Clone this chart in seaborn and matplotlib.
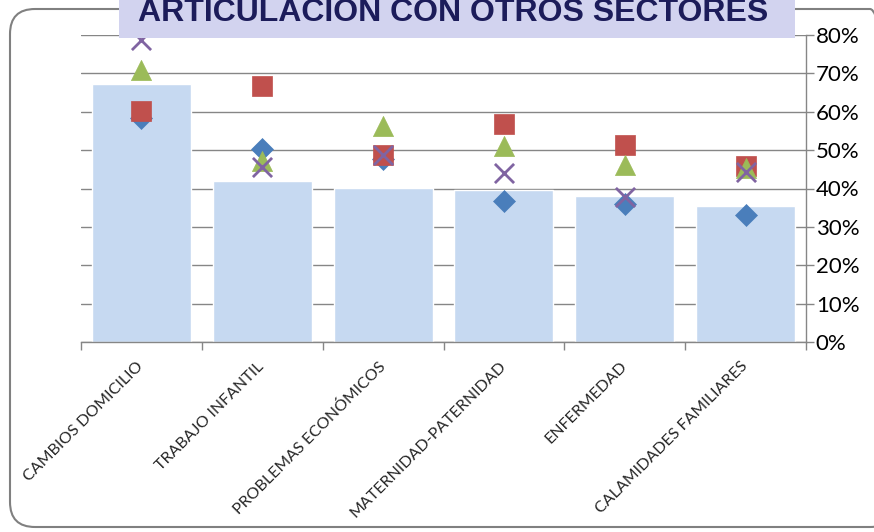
import numpy as np
import pandas as pd
import matplotlib
matplotlib.use("Agg")
import matplotlib.pyplot as plt
import seaborn as sns
from matplotlib.patches import FancyBboxPatch, Rectangle

# data
categories = ["CAMBIOS DOMICILIO", "TRABAJO INFANTIL", "PROBLEMAS ECONÓMICOS",
              "MATERNIDAD-PATERNIDAD", "ENFERMEDAD", "CALAMIDADES FAMILIARES"]
bar_values = [0.672, 0.419, 0.401, 0.396, 0.380, 0.354]
diamond_values = [0.585, 0.503, 0.477, 0.367, 0.359, 0.331]
square_values = [0.602, 0.667, 0.487, 0.568, 0.513, 0.458]
triangle_values = [0.708, 0.471, 0.563, 0.510, 0.461, 0.453]
cross_values = [0.786, 0.456, 0.487, 0.440, 0.378, 0.443]
y_ticks = [0.0, 0.1, 0.2, 0.3, 0.4, 0.5, 0.6, 0.7, 0.8]
title = "ARTICULACIÓN CON OTROS SECTORES"

sns.set_style("white")
plt.rcParams["font.family"] = ["Lato", "DejaVu Sans"]

fig = plt.figure(figsize=(8.74, 5.32), dpi=100)
ax = fig.add_axes([81 / 874, 1 - 342 / 532, (806 - 81) / 874, (342 - 35) / 532])

grid_color = "#868686"
ax.set_axisbelow(True)
for t in y_ticks:
    ax.axhline(t, color=grid_color, lw=1, zorder=0)

sns.barplot(x=categories, y=bar_values, color="#C6D9F1", saturation=1,
            width=0.82, ax=ax, zorder=1)

series = [
    (diamond_values, "D", "#4A7EBB", 125),
    (square_values, "s", "#C0504D", 190),
    (triangle_values, "^", "#9BBB59", 210),
]
for vals, mk, col, size in series:
    sns.scatterplot(x=categories, y=vals, marker=mk, s=size, color=col,
                    edgecolor=col, linewidth=0.5, ax=ax, zorder=3)
sns.scatterplot(x=categories, y=cross_values, marker="x", s=190,
                color="#8064A2", linewidth=2, ax=ax, zorder=4)

ax.set_xlim(-0.5, len(categories) - 0.5)
ax.set_ylim(0, 0.8)
ax.yaxis.tick_right()
ax.set_yticks(y_ticks)
ax.set_yticklabels([f"{int(round(t * 100))}%" for t in y_ticks], fontsize=16)
ax.tick_params(axis="y", right=True, length=6, width=1, color=grid_color,
               pad=1, labelcolor="#000000")

ax.set_xticks(range(len(categories)))
ax.set_xticklabels(categories, rotation=45, ha="right", va="center",
                   rotation_mode="anchor", fontsize=11.5)
ax.tick_params(axis="x", which="major", length=0, pad=16)
ax.set_xticks(np.arange(-0.5, len(categories)), minor=True)
ax.tick_params(axis="x", which="minor", bottom=True, length=6, width=1,
               color=grid_color)
ax.set_xlabel("")
ax.set_ylabel("")

for side in ["left", "top"]:
    ax.spines[side].set_visible(False)
for side in ["right", "bottom"]:
    ax.spines[side].set_color(grid_color)
    ax.spines[side].set_linewidth(1)

# rounded frame and title banner (in inches, figure coords)
frame = FancyBboxPatch((0.10, 0.05), 8.85, 5.18,
                       boxstyle="round,pad=0,rounding_size=0.25",
                       transform=fig.dpi_scale_trans, facecolor="none",
                       edgecolor="#808080", lw=1.5, zorder=5)
fig.patches.append(frame)
banner = Rectangle((1.19, 4.945), 6.76, 0.40, transform=fig.dpi_scale_trans,
                   facecolor="#D2D3EF", edgecolor="none", zorder=6)
fig.patches.append(banner)
fig.text(4.53 / 8.74, 1 - 21 / 532, title, ha="center", va="baseline",
         fontsize=23, fontweight="bold", color="#1C1C5A",
         family=["Liberation Sans", "DejaVu Sans"], zorder=7)

fig.savefig("out.png", dpi=100)
